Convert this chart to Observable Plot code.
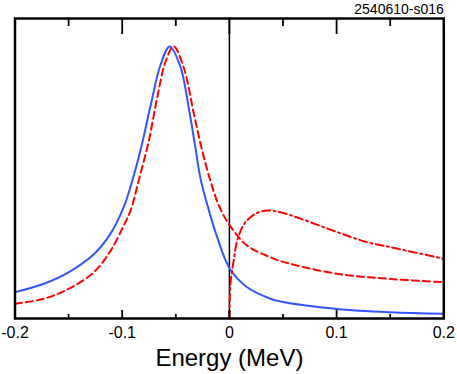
<!DOCTYPE html>
<html>
<head>
<meta charset="utf-8">
<script src="https://cdn.jsdelivr.net/npm/d3@7"></script>
<script src="https://cdn.jsdelivr.net/npm/@observablehq/plot@0.6"></script>
<style>
  html, body { margin: 0; padding: 0; background: #fff; }
  #chart { position: relative; width: 457px; height: 374px; }
  #chart svg { display: block; position: absolute; left: 0; top: 0; }
  #chart svg.overlay { background: transparent !important; pointer-events: none; }
</style>
</head>
<body>
<div id="chart"></div>
<script>
// Blue solid curve (energy in MeV, relative value)
const blueE = [-0.2, -0.173, -0.150, -0.1265, -0.111, -0.0985, -0.092, -0.083, -0.0736, -0.0643, -0.0556, -0.0456, -0.038, -0.0316, -0.027, -0.0207, -0.0114, 0.0004, 0.0166, 0.0383, 0.0477, 0.1005, 0.150, 0.200];
const blueV = [0.088, 0.116, 0.154, 0.214, 0.282, 0.372, 0.442, 0.56, 0.708, 0.845, 0.907, 0.838, 0.704, 0.567, 0.467, 0.38, 0.271, 0.166, 0.104, 0.066, 0.057, 0.032, 0.021, 0.016];

// Red dashed curve
const redE = [-0.2, -0.173, -0.150, -0.1265, -0.111, -0.0985, -0.092, -0.0846, -0.0753, -0.0674, -0.0597, -0.052, -0.0425, -0.0332, -0.0254, -0.0176, -0.0096, 0.0004, 0.0166, 0.0383, 0.0507, 0.1005, 0.150, 0.200];
const redV = [0.049, 0.066, 0.099, 0.154, 0.225, 0.31, 0.362, 0.46, 0.59, 0.735, 0.855, 0.907, 0.835, 0.683, 0.56, 0.458, 0.375, 0.31, 0.243, 0.204, 0.188, 0.149, 0.132, 0.121];

// Red dash-dot curve (starts at threshold E = 0)
const dashDotE = [0.0, 0.001, 0.004, 0.0078, 0.015, 0.0259, 0.036, 0.0477, 0.0663, 0.1005, 0.128, 0.150, 0.200];
const dashDotV = [0.0, 0.116, 0.193, 0.266, 0.321, 0.352, 0.36, 0.354, 0.333, 0.288, 0.255, 0.238, 0.199];

const majorTicks = [-0.2, -0.1, 0, 0.1, 0.2];
const minorTicks = [-0.15, -0.05, 0.05, 0.15];
const tickLabels = ["-0.2", "-0.1", "0", "0.1", "0.2"];
const xLabel = "Energy (MeV)";
const tag = "2540610-s016";

const toRows = (xs, ys) => xs.map((x, i) => ({x, y: ys[i]}));
const blueRows = toRows(blueE, blueV);
const redRows = toRows(redE, redV);
const dashDotRows = toRows(dashDotE, dashDotV);

const fontStack = "'Liberation Sans', Arial, Helvetica, sans-serif";
const W = 457, H = 374, mT = 18, mB = 56, mL = 14.5, mR = 13.7;
const frameH = H - mT - mB;

const common = {
  width: W, height: H,
  marginLeft: mL, marginRight: mR, marginTop: mT, marginBottom: mB,
  x: {domain: [-0.2, 0.2], axis: null},
  y: {domain: [0, 1], axis: null}
};

// Main layer: curves, zero line and texts
const chart = Plot.plot({
  ...common,
  style: {fontFamily: fontStack, background: "#fff", color: "#000"},
  marks: [
    Plot.ruleX([0], {stroke: "#000", strokeWidth: 1.5}),
    Plot.line(blueRows, {x: "x", y: "y", stroke: "#3355ff", strokeWidth: 2, curve: "catmull-rom"}),
    Plot.line(redRows, {x: "x", y: "y", stroke: "#ff0000", strokeWidth: 2, strokeDasharray: "7,4", curve: "catmull-rom"}),
    Plot.line(dashDotRows, {x: "x", y: "y", stroke: "#ff0000", strokeWidth: 2, strokeDasharray: "8,3.5,2,3.5", curve: "catmull-rom"}),
    Plot.axisX({anchor: "bottom", ticks: majorTicks, tickSize: 0, tickPadding: 8, tickFormat: (d, i) => tickLabels[i], fontSize: 16, label: null}),
    Plot.text([xLabel], {frameAnchor: "bottom", lineAnchor: "top", dy: 30, fontSize: 24, fill: "#000"}),
    Plot.text([tag], {frameAnchor: "top-right", textAnchor: "end", lineAnchor: "bottom", dy: -5, fontSize: 14, fill: "#000"})
  ]
});

// Overlay layer: frame and inward ticks (top and bottom)
const ticksLayer = Plot.plot({
  ...common,
  className: "overlay",
  style: {background: "transparent", color: "#000"},
  marks: [
    Plot.ruleX(majorTicks, {x: d => d, insetTop: frameH - 8, stroke: "#000", strokeWidth: 1.8}),
    Plot.ruleX(minorTicks, {x: d => d, insetTop: frameH - 4, stroke: "#000", strokeWidth: 1.8}),
    Plot.ruleX(majorTicks, {x: d => d, insetBottom: frameH - 16, stroke: "#000", strokeWidth: 1.8}),
    Plot.ruleX(minorTicks, {x: d => d, insetBottom: frameH - 8, stroke: "#000", strokeWidth: 1.8}),
    Plot.frame({stroke: "#000", strokeWidth: 2.5})
  ]
});
ticksLayer.classList.add("overlay");

const host = document.getElementById("chart");
host.appendChild(chart);
host.appendChild(ticksLayer);
</script>
</body>
</html>
